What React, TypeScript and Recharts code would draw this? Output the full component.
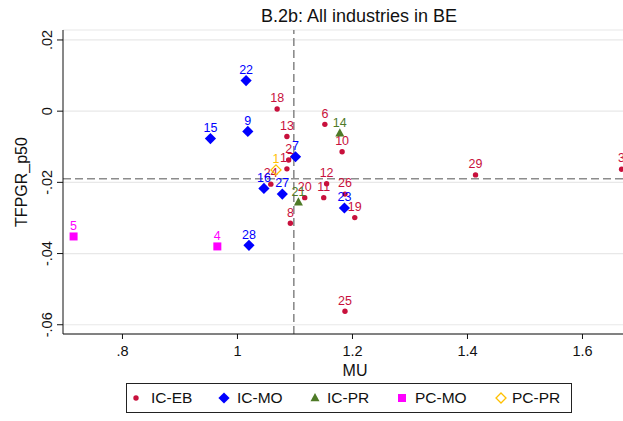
import React from 'react';
import { ScatterChart, Scatter, XAxis, YAxis, CartesianGrid, ReferenceLine, Legend, Label } from 'recharts';

// IC-EB (red dots)
const icEbIds = [2, 3, 6, 8, 10, 11, 12, 13, 17, 18, 19, 20, 24, 25, 26, 29];
const icEbX = [1.089, 1.668, 1.152, 1.092, 1.182, 1.150, 1.155, 1.086, 1.086, 1.069, 1.204, 1.117, 1.058, 1.187, 1.187, 1.414];
const icEbY = [-0.0137, -0.0163, -0.0037, -0.0315, -0.0114, -0.0243, -0.0204, -0.0071, -0.0162, 0.0006, -0.0299, -0.0243, -0.0205, -0.0562, -0.0233, -0.0179];

// IC-MO (blue diamonds)
const icMoIds = [7, 9, 15, 16, 22, 23, 27, 28];
const icMoX = [1.101, 1.018, 0.953, 1.046, 1.015, 1.186, 1.078, 1.020];
const icMoY = [-0.0128, -0.0057, -0.0077, -0.0217, 0.0086, -0.0272, -0.0233, -0.0377];

// IC-PR (green triangles)
const icPrIds = [14, 21];
const icPrX = [1.178, 1.106];
const icPrY = [-0.0062, -0.0256];

// PC-MO (magenta squares)
const pcMoIds = [4, 5];
const pcMoX = [0.965, 0.715];
const pcMoY = [-0.038, -0.0352];

// PC-PR (hollow yellow diamond)
const pcPrIds = [1];
const pcPrX = [1.067];
const pcPrY = [-0.0165];

const meanMU = 1.098;
const meanTFP = -0.019;

const xTicks = [0.8, 1, 1.2, 1.4, 1.6];
const yTicks = [0.02, 0, -0.02, -0.04, -0.06];

const FONT = '"Liberation Sans", Arial, sans-serif';

const C_EB = '#c8103c';
const C_MO = '#0000ff';
const C_PR = '#4e7a27';
const C_PCMO = '#ff00ff';
const C_PCPR = '#ffc000';

const toPoints = (ids: number[], xs: number[], ys: number[]) =>
  ids.map((id, i) => ({ id, x: xs[i], y: ys[i] }));

const fmt = (v: number) => {
  if (v === 0) return '0';
  const s = String(+v.toFixed(3));
  return s.replace('0.', '.');
};

function marker(kind: string, color: string, cx: number, cy: number) {
  if (kind === 'dot') return <circle cx={cx} cy={cy} r={2.7} fill={color} />;
  if (kind === 'diamond') {
    const r = 5.6;
    return <polygon points={`${cx},${cy - r} ${cx + r},${cy} ${cx},${cy + r} ${cx - r},${cy}`} fill={color} />;
  }
  if (kind === 'hollow') {
    const r = 5;
    return <polygon points={`${cx},${cy - r} ${cx + r},${cy} ${cx},${cy + r} ${cx - r},${cy}`} fill="none" stroke={color} strokeWidth={1.3} />;
  }
  if (kind === 'triangle') {
    return <polygon points={`${cx},${cy - 5} ${cx + 4.5},${cy + 3.2} ${cx - 4.5},${cy + 3.2}`} fill={color} />;
  }
  return <rect x={cx - 4} y={cy - 4} width={8} height={8} fill={color} />;
}

const makeShape = (kind: string, color: string) => (props: any) => {
  const { cx, cy, payload } = props;
  return (
    <g>
      {marker(kind, color, cx, cy)}
      <text x={cx} y={cy - 6.7} textAnchor="middle" fill={color} fontSize={12.5} fontFamily={FONT}>
        {payload.id}
      </text>
    </g>
  );
};

const YTick = ({ x, y, payload }: any) => (
  <text x={x} y={y} transform={`rotate(-90 ${x} ${y})`} textAnchor="middle" fontSize={14.5} fontFamily={FONT} fill="#111">
    {fmt(payload.value)}
  </text>
);

const XTick = ({ x, y, payload }: any) => (
  <text x={x} y={y + 15} textAnchor="middle" fontSize={14.5} fontFamily={FONT} fill="#111">
    {fmt(payload.value)}
  </text>
);

// marker x and text x inside the legend box
const legendItems = [
  { name: 'IC-EB', kind: 'dot', color: C_EB, mx: 9, tx: 24 },
  { name: 'IC-MO', kind: 'diamond', color: C_MO, mx: 97, tx: 110 },
  { name: 'IC-PR', kind: 'triangle', color: C_PR, mx: 188, tx: 200 },
  { name: 'PC-MO', kind: 'square', color: C_PCMO, mx: 275, tx: 288 },
  { name: 'PC-PR', kind: 'hollow', color: C_PCPR, mx: 374, tx: 385 },
];

function LegendBox() {
  return (
    <div style={{ position: 'relative', border: '1px solid #222', width: 446, height: 30, boxSizing: 'border-box', fontFamily: FONT, fontSize: 15.5, color: '#111' }}>
      {legendItems.map((it) => (
        <React.Fragment key={it.name}>
          <svg width={16} height={14} style={{ position: 'absolute', left: it.mx - 8, top: 7 }}>
            {marker(it.kind, it.color, 8, 7)}
          </svg>
          <span style={{ position: 'absolute', left: it.tx, top: 5, lineHeight: '18px' }}>{it.name}</span>
        </React.Fragment>
      ))}
    </div>
  );
}

export default function App() {
  return (
    <div style={{ position: 'absolute', left: 0, top: 0, width: 623, height: 421, overflow: 'hidden', background: '#fff' }}>
      <div style={{ position: 'absolute', left: 0, width: 718, top: 6, textAlign: 'center', fontFamily: FONT, fontSize: 18, color: '#111' }}>
        B.2b: All industries in BE
      </div>
      <ScatterChart width={656} height={421} margin={{ top: 30, right: 9, bottom: 27, left: 0 }}>
        <CartesianGrid vertical={false} stroke="#e8e8e8" strokeWidth={1.2} />
        <XAxis type="number" dataKey="x" domain={[0.6966, 1.7122]} ticks={xTicks} allowDataOverflow
          tick={<XTick />} tickSize={5} height={30} axisLine={{ stroke: '#111' }} tickLine={{ stroke: '#111' }}>
          <Label value="MU" position="bottom" offset={1} style={{ fontFamily: FONT, fontSize: 16, fill: '#111' }} />
        </XAxis>
        <YAxis type="number" dataKey="y" domain={[-0.0626, 0.0228]} ticks={yTicks} allowDataOverflow
          tick={<YTick />} tickSize={6} tickMargin={5} width={63} axisLine={{ stroke: '#111' }} tickLine={{ stroke: '#111' }}>
          <Label content={({ viewBox }: any) => {
            const x = 27;
            const y = viewBox.y + viewBox.height / 2;
            return (
              <text x={x} y={y} transform={`rotate(-90 ${x} ${y})`} textAnchor="middle" fontSize={16} fontFamily={FONT} fill="#111">
                TFPGR_p50
              </text>
            );
          }} />
        </YAxis>
        <ReferenceLine x={meanMU} stroke="#8c8c8c" strokeWidth={1.6} strokeDasharray="8 4" />
        <ReferenceLine y={meanTFP} stroke="#8c8c8c" strokeWidth={1.6} strokeDasharray="8 4" />
        <Scatter name="IC-EB" data={toPoints(icEbIds, icEbX, icEbY)} shape={makeShape('dot', C_EB)} isAnimationActive={false} />
        <Scatter name="IC-MO" data={toPoints(icMoIds, icMoX, icMoY)} shape={makeShape('diamond', C_MO)} isAnimationActive={false} />
        <Scatter name="IC-PR" data={toPoints(icPrIds, icPrX, icPrY)} shape={makeShape('triangle', C_PR)} isAnimationActive={false} />
        <Scatter name="PC-MO" data={toPoints(pcMoIds, pcMoX, pcMoY)} shape={makeShape('square', C_PCMO)} isAnimationActive={false} />
        <Scatter name="PC-PR" data={toPoints(pcPrIds, pcPrX, pcPrY)} shape={makeShape('hollow', C_PCPR)} isAnimationActive={false} />
        <Legend content={() => <LegendBox />} wrapperStyle={{ position: 'absolute', left: 126, top: 383, width: 446, height: 30 }} />
      </ScatterChart>
    </div>
  );
}
